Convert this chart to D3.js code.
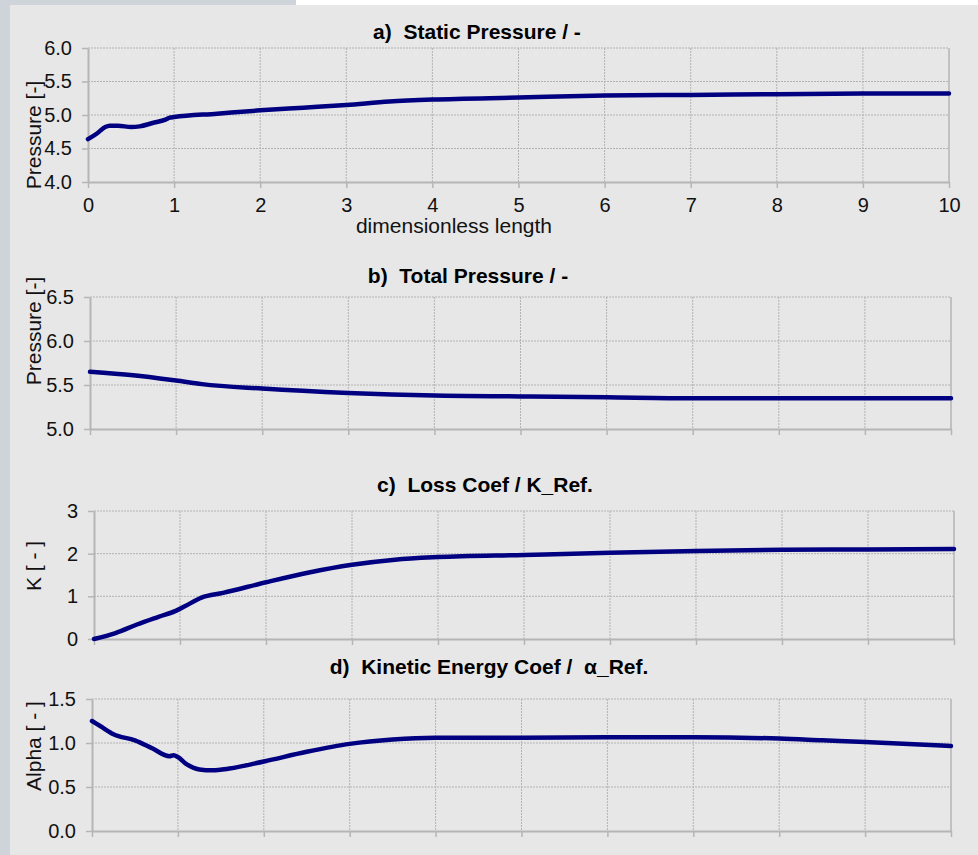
<!DOCTYPE html>
<html>
<head>
<meta charset="utf-8">
<script src="https://cdn.jsdelivr.net/npm/d3@7"></script>
<style>
  body { margin: 0; background: #fff; }
  svg { display: block; font-family: "Liberation Sans", Arial, sans-serif; }
</style>
</head>
<body>
<svg id="chart" width="978" height="855"></svg>
<script>
// x positions shared by all four panels
const xTicks = [0, 1, 2, 3, 4, 5, 6, 7, 8, 9, 10];

// a) static pressure
const staticX = [0, 0.1, 0.2, 0.25, 0.35, 0.5, 0.6, 0.75, 0.9, 0.95, 1, 1.5, 2, 2.5, 3, 3.5, 4, 5, 6, 7, 8, 9, 10];
const staticP = [4.64, 4.72, 4.82, 4.84, 4.84, 4.82, 4.83, 4.88, 4.93, 4.96, 4.97, 5.02, 5.07, 5.11, 5.15, 5.2, 5.23, 5.26, 5.29, 5.30, 5.31, 5.32, 5.32];
const staticTicks = [4.0, 4.5, 5.0, 5.5, 6.0];

// b) total pressure
const totalX = [0, 0.5, 1, 1.3, 2, 3, 4, 5, 6, 7, 8, 9, 10];
const totalP = [5.65, 5.61, 5.55, 5.51, 5.46, 5.41, 5.38, 5.37, 5.36, 5.35, 5.35, 5.35, 5.35];
const totalTicks = [5.0, 5.5, 6.0, 6.5];

// c) loss coefficient
const lossX = [0, 0.25, 0.5, 0.75, 0.95, 1.05, 1.25, 1.5, 2, 2.5, 3, 3.5, 4, 5, 6, 7, 8, 9, 10];
const lossK = [0, 0.14, 0.34, 0.52, 0.66, 0.76, 0.97, 1.08, 1.33, 1.56, 1.74, 1.86, 1.92, 1.97, 2.02, 2.06, 2.09, 2.1, 2.11];
const lossTicks = [0, 1, 2, 3];

// d) kinetic energy coefficient
const alphaX = [0, 0.1, 0.25, 0.5, 0.7, 0.9, 0.95, 1.0, 1.1, 1.25, 1.4, 1.6, 2, 2.5, 3, 3.5, 4, 5, 6, 7, 8, 8.5, 9, 10];
const alphaA = [1.25, 1.19, 1.10, 1.03, 0.94, 0.85, 0.86, 0.84, 0.76, 0.70, 0.69, 0.71, 0.79, 0.9, 0.99, 1.04, 1.06, 1.06, 1.065, 1.065, 1.05, 1.03, 1.01, 0.965];
const alphaTicks = [0.0, 0.5, 1.0, 1.5];

const panels = [
  { title: "a)  Static Pressure / -", ylabel: "Pressure [-]", xs: staticX, ys: staticP, ticks: staticTicks, fmt: ".1f",
    left: 88, right: 949, top: 48, bottom: 182, tx: 477, ty: 39, ly: 135, xlabels: true },
  { title: "b)  Total Pressure / -", ylabel: "Pressure [-]", xs: totalX, ys: totalP, ticks: totalTicks, fmt: ".1f",
    left: 90, right: 951, top: 297, bottom: 429, tx: 468, ty: 283, ly: 331 },
  { title: "c)  Loss Coef / K_Ref.", ylabel: "K [ - ]", xs: lossX, ys: lossK, ticks: lossTicks, fmt: "d",
    left: 94, right: 954, top: 511, bottom: 639, tx: 485, ty: 492, ly: 566 },
  { title: "d)  Kinetic Energy Coef /  \u03b1_Ref.", ylabel: "Alpha [ - ]", xs: alphaX, ys: alphaA, ticks: alphaTicks, fmt: ".1f",
    left: 92, right: 951, top: 699, bottom: 831, tx: 489, ty: 674, ly: 746 }
];

const svg = d3.select("#chart");

// background: grey strips + light panel
svg.append("rect").attr("width", 978).attr("height", 855).attr("fill", "#cfd4da");
svg.append("rect").attr("x", 296).attr("width", 682).attr("height", 5).attr("fill", "#ffffff");
svg.append("rect").attr("x", 10).attr("y", 5).attr("width", 968).attr("height", 850).attr("fill", "#e7e7e7");

const gridColor = "#b3b3b3";
const axisColor = "#b5b5b5";

panels.forEach((p) => {
  const x = d3.scaleLinear().domain([0, 10]).range([p.left, p.right]);
  const y = d3.scaleLinear().domain(d3.extent(p.ticks)).range([p.bottom, p.top]);
  const g = svg.append("g");

  // dotted grid
  g.append("g").selectAll("line").data(p.ticks.slice(1)).join("line")
    .attr("x1", p.left).attr("x2", p.right)
    .attr("y1", (d) => y(d)).attr("y2", (d) => y(d))
    .attr("stroke", gridColor).attr("stroke-dasharray", "2,1");
  g.append("g").selectAll("line").data(xTicks.slice(1, -1)).join("line")
    .attr("x1", (d) => x(d)).attr("x2", (d) => x(d))
    .attr("y1", p.top).attr("y2", p.bottom)
    .attr("stroke", gridColor).attr("stroke-dasharray", "2,1");
  // right border
  g.append("line").attr("x1", p.right).attr("x2", p.right).attr("y1", p.top).attr("y2", p.bottom)
    .attr("stroke", axisColor).attr("stroke-width", 1.5);

  // axes
  const yAxis = d3.axisLeft(y).tickValues(p.ticks).tickFormat(d3.format(p.fmt))
    .tickSize(6).tickSizeOuter(0).tickPadding(10);
  const gy = g.append("g").attr("transform", `translate(${p.left},0)`).call(yAxis);

  const xAxis = d3.axisBottom(x).tickValues(xTicks).tickFormat(p.xlabels ? d3.format("d") : () => "")
    .tickSize(6).tickSizeOuter(0).tickPadding(10);
  const gx = g.append("g").attr("transform", `translate(0,${p.bottom})`).call(xAxis);

  [gx, gy].forEach((ax) => {
    ax.select(".domain").attr("stroke", axisColor).attr("stroke-width", 2);
    ax.selectAll(".tick line").attr("stroke", axisColor).attr("stroke-width", 1.5);
    ax.selectAll(".tick text").attr("fill", "#111").style("font-size", "20px")
      .style("font-family", "'Liberation Sans', Arial, sans-serif");
  });

  if (p.xlabels) {
    g.append("text").attr("x", 454).attr("y", 233).attr("text-anchor", "middle")
      .style("font-size", "21px").attr("fill", "#111").text("dimensionless length");
  }

  // title
  g.append("text").attr("x", p.tx).attr("y", p.ty).attr("text-anchor", "middle")
    .style("font-size", "21px").style("font-weight", "bold").style("white-space", "pre")
    .attr("fill", "#000").text(p.title);

  // y label
  g.append("text").attr("transform", `translate(41,${p.ly}) rotate(-90)`)
    .attr("text-anchor", "middle").style("font-size", "21px").attr("fill", "#111")
    .text(p.ylabel);

  // series
  const line = d3.line().x((d) => x(d[0])).y((d) => y(d[1])).curve(d3.curveMonotoneX);
  g.append("path").datum(d3.zip(p.xs, p.ys))
    .attr("d", line).attr("fill", "none").attr("stroke", "#000080")
    .attr("stroke-width", 4.5).attr("stroke-linecap", "round").attr("stroke-linejoin", "round");
});
</script>
</body>
</html>
